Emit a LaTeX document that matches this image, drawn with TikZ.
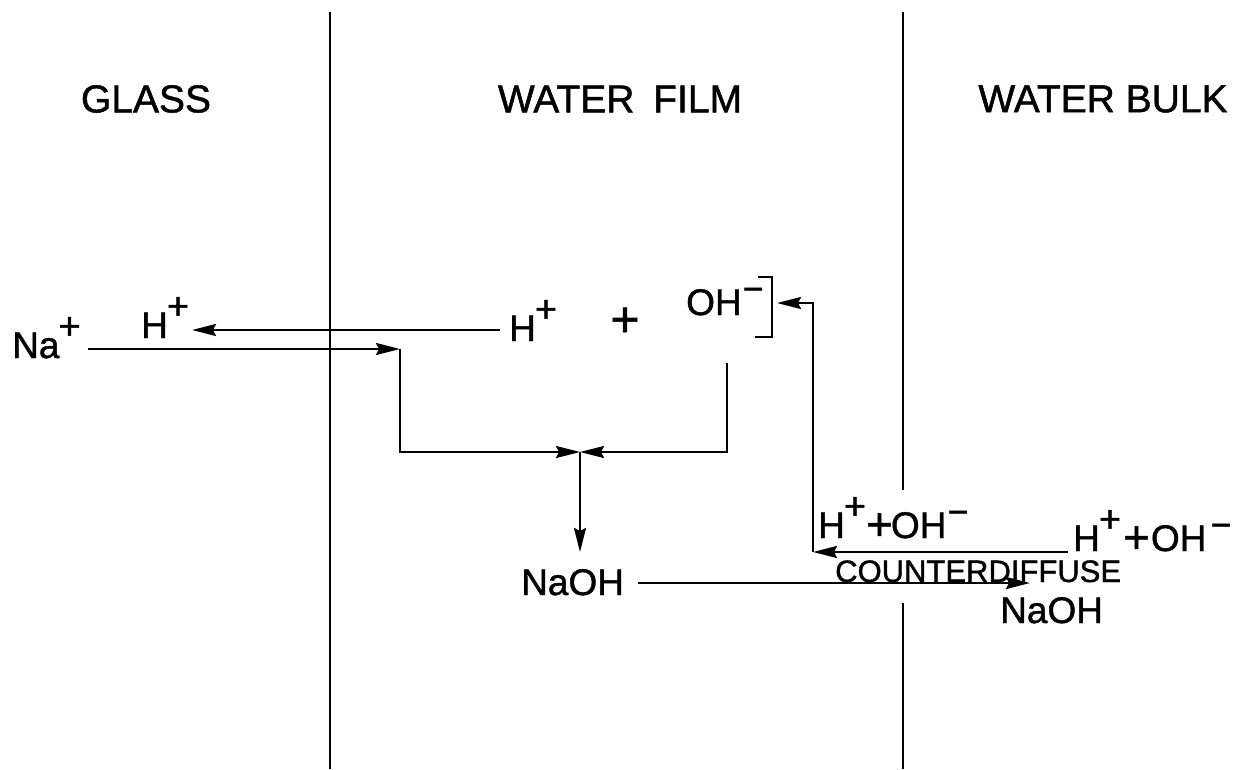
\documentclass[tikz,border=0pt]{standalone}
\usepackage{fontspec}
\setmainfont{Liberation Sans}
\newfontfamily\lett[FakeBold=1.2]{Liberation Sans}
\usetikzlibrary{arrows.meta}
\newcommand\ionp{\kern-1pt\raisebox{19pt}{\fontsize{38}{38}\selectfont +}}
\newcommand\ionm{\kern1pt\raisebox{14pt}{\fontsize{36}{36}\selectfont −}}
\newcommand\bigplus{\raisebox{-2pt}{\fontsize{46}{46}\selectfont +}}
\begin{document}
\begin{tikzpicture}[x=1pt,y=-1pt,
  head/.style={font=\lett\fontsize{39}{44}\selectfont, inner sep=0pt},
  lbl/.style={font=\lett\fontsize{37}{42}\selectfont, inner sep=0pt, anchor=base west},
  divider/.style={line width=1.3pt},
  flow/.style={line width=2.4pt, -{Stealth[length=24pt,width=12pt,inset=3pt]}},
  plain/.style={line width=2.4pt}]
\useasboundingbox[fill=white] (0,0) rectangle (1245,769);

% dividers
\draw[divider] (330,12) -- (330,769);
\draw[divider] (903,12) -- (903,490);
\draw[divider] (903,603) -- (903,769);

% headings
\node[head] (glass) at (146,99) {GLASS};
\node[head] (film) at (620,99) {WATER\hspace{8pt} FILM};
\node[head] (bulk) at (1103,99) {WATER BULK};

% labels
\node[lbl] (na) at (12,358) {Na\ionp};
\node[lbl] (hg) at (141,338) {H\ionp};
\node[lbl] (hf) at (509,341) {H\ionp};
\node[font=\lett\fontsize{50}{54}\selectfont, inner sep=0pt] (plus) at (625,322) {+};
\node[lbl] (oh) at (686,315) {OH\ionm};
\node[lbl] (hohl) at (818,538) {H\ionp\kern0pt\bigplus\kern-2pt OH\ionm};
\node[lbl] (hohb) at (1073,551) {H\ionp\kern2pt\bigplus\kern1pt OH\kern3pt\ionm};
\node[lbl, font=\lett\fontsize{31}{36}\selectfont] (cd) at (835,582) {COUNTERDIFFUSE};
\node[lbl] (naohf) at (521,595) {NaOH};
\node[lbl] (naohb) at (1000,623) {NaOH};

% bracket after OH-
\draw[plain] (758,277) -- (772,277) -- (772,337) -- (755,337);

% coordinates
\coordinate (naS) at (88,349);
\coordinate (c1) at (400,349);
\coordinate (c2) at (400,452);
\coordinate (j) at (580,452);
\coordinate (c3) at (727,452);
\coordinate (c4) at (727,363);
\coordinate (jb) at (580,552);
\coordinate (hS) at (500,330);
\coordinate (hE) at (192,330);
\coordinate (nS) at (638,583);
\coordinate (nE) at (1030,583);
\coordinate (bS) at (1068,552);
\coordinate (bC) at (813,552);
\coordinate (bT) at (813,303);
\coordinate (bE) at (777,303);

% connectors
\draw[flow] (hS) -- (hE);
\draw[flow] (naS) -- (c1);
\draw[flow] (c1) -- (c2) -- (j);
\draw[flow] (c4) -- (c3) -- (j);
\draw[flow] (j) -- (jb);
\draw[flow] (nS) -- (nE);
\draw[flow] (bS) -- (bC);
\draw[flow] (bC) -- (bT) -- (bE);
\end{tikzpicture}
\end{document}
